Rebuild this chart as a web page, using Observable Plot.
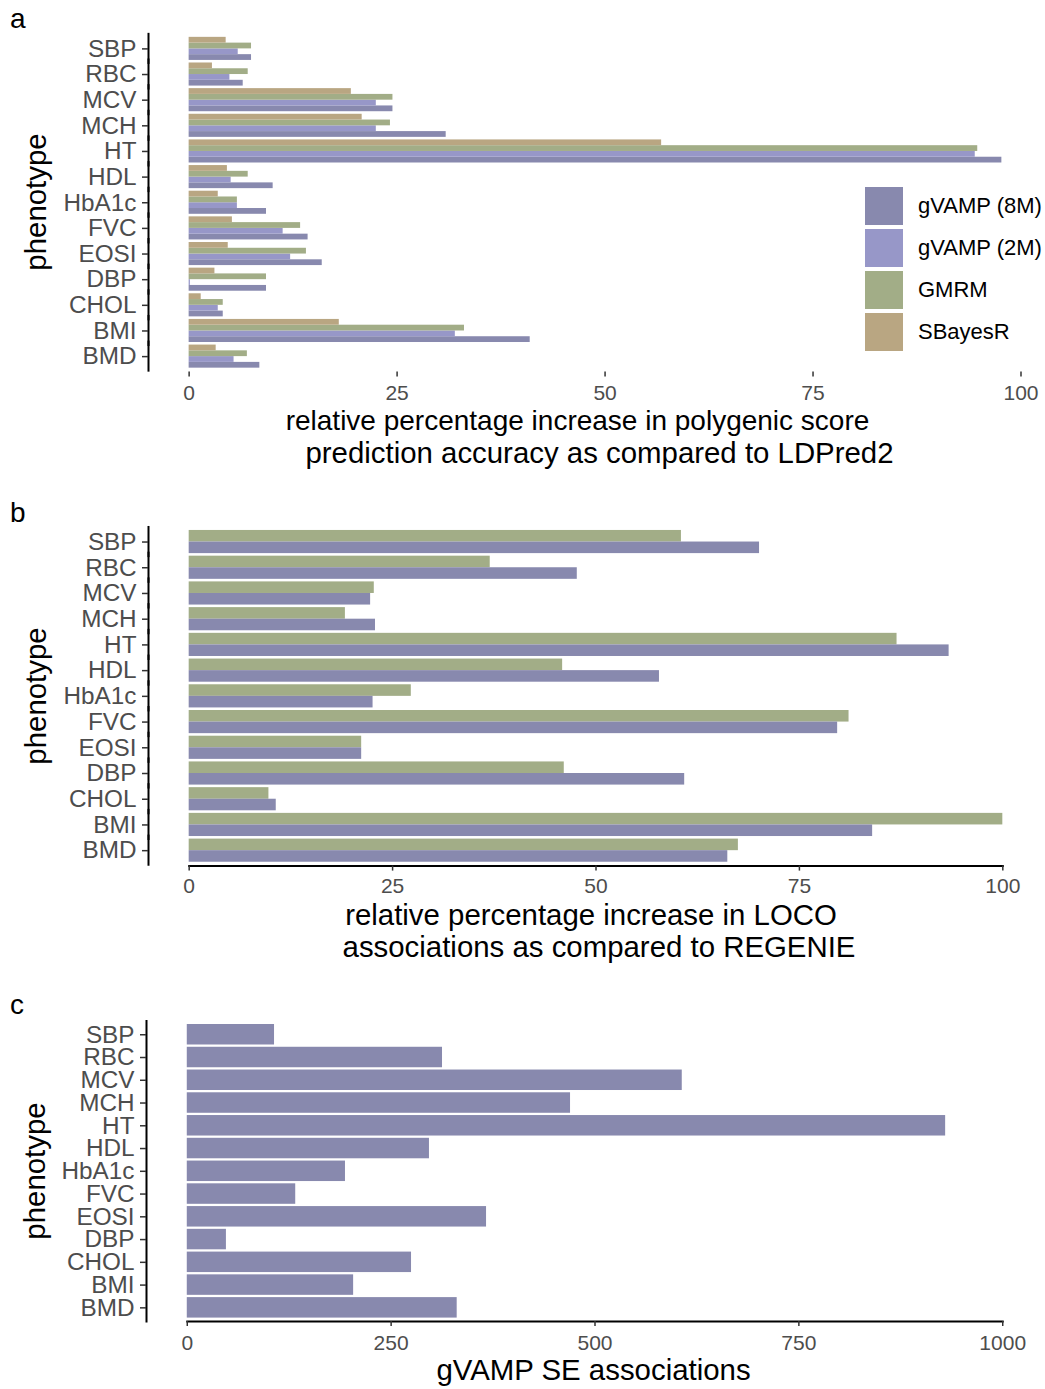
<!DOCTYPE html>
<html>
<head>
<meta charset="utf-8">
<script src="https://cdn.jsdelivr.net/npm/d3@7"></script>
<script src="https://cdn.jsdelivr.net/npm/@observablehq/plot@0.6"></script>
<style>
  body { margin: 0; background: #fff; }
  #root { position: relative; width: 1045px; height: 1389px; font-family: "Liberation Sans", Arial, Helvetica, sans-serif; overflow: hidden; }
  .panel { position: absolute; left: 0; width: 1045px; }
  .lbl { position: absolute; white-space: pre; line-height: 1em; color: #000; }
  .lg-swatches { font-family: "Liberation Sans", Arial, Helvetica, sans-serif !important; font-size: 22px !important; color: #000; margin: 0 !important; min-height: 0 !important; }
  .lg-swatch { padding-bottom: 4px !important; }
  .lg-swatch svg { margin-right: 15px !important; }
</style>
</head>
<body>
<div id="root"></div>
<script>
const FONT = '"Liberation Sans", Arial, Helvetica, sans-serif';

// ---------- data ----------
const phenotypes = ["SBP", "RBC", "MCV", "MCH", "HT", "HDL", "HbA1c", "FVC", "EOSI", "DBP", "CHOL", "BMI", "BMD"];

// panel a: relative % increase in PGS prediction accuracy vs LDPred2
const methodsA = ["gVAMP (8M)", "gVAMP (2M)", "GMRM", "SBayesR"];
const colorsA = ["#8889ae", "#9797c8", "#a2ad87", "#b9a682"];
const pgsGvamp8M = [7.5, 6.5, 24.5, 30.9, 97.7, 10.1, 9.3, 14.3, 16.0, 9.3, 4.1, 41.0, 8.5];
const pgsGvamp2M = [5.9, 4.9, 22.5, 22.5, 94.5, 5.05, 5.8, 11.3, 12.2, 0.15, 3.5, 32.0, 5.4];
const pgsGMRM    = [7.5, 7.1, 24.5, 24.2, 94.8, 7.1, 5.8, 13.4, 14.1, 9.3, 4.1, 33.1, 7.0];
const pgsSBayesR = [4.45, 2.8, 19.5, 20.8, 56.8, 4.6, 3.5, 5.2, 4.7, 3.1, 1.45, 18.05, 3.25];
const ticksA = [0, 25, 50, 75, 100];

// panel b: relative % increase in LOCO associations vs REGENIE
const methodsB = ["GMRM", "gVAMP (8M)"];
const colorsB = ["#a2ad87", "#8889ae"];
const locoGMRM    = [60.5, 37.0, 22.75, 19.2, 87.0, 45.9, 27.3, 81.1, 21.2, 46.1, 9.8, 100.0, 67.5];
const locoGvamp8M = [70.1, 47.7, 22.3, 22.9, 93.4, 57.8, 22.6, 79.7, 21.2, 60.9, 10.7, 84.0, 66.2];
const ticksB = [0, 25, 50, 75, 100];

// panel c: gVAMP SE associations
const seAssoc = [107, 313, 607, 470, 930, 297, 194, 133, 367, 48, 275, 204, 331];
const seColor = "#8889ae";
const ticksC = [0, 250, 500, 750, 1000];

// ---------- tables ----------
const seriesA = {"gVAMP (8M)": pgsGvamp8M, "gVAMP (2M)": pgsGvamp2M, "GMRM": pgsGMRM, "SBayesR": pgsSBayesR};
const tidyA = phenotypes.flatMap((p, i) => methodsA.map(m => ({phenotype: p, method: m, value: seriesA[m][i]})));
const seriesB = {"GMRM": locoGMRM, "gVAMP (8M)": locoGvamp8M};
const tidyB = phenotypes.flatMap((p, i) => methodsB.map(m => ({phenotype: p, method: m, value: seriesB[m][i]})));
const tidyC = phenotypes.map((p, i) => ({phenotype: p, value: seAssoc[i]}));

const root = document.getElementById("root");
function panel(top, height) {
  const d = document.createElement("div");
  d.className = "panel";
  d.style.top = top + "px";
  d.style.height = height + "px";
  root.appendChild(d);
  return d;
}
function label(parent, text, x, baseline, fs, anchor = "middle", rotate = false) {
  const d = document.createElement("div");
  d.className = "lbl";
  d.textContent = text;
  d.style.fontSize = fs + "px";
  if (!rotate) {
    d.style.top = (baseline - 0.8465 * fs) + "px";
    d.style.left = x + "px";
    if (anchor === "middle") d.style.transform = "translateX(-50%)";
  } else {
    const cx = baseline - 0.3465 * fs;
    d.style.left = cx + "px";
    d.style.top = x + "px";
    d.style.transform = "translate(-50%, -50%) rotate(-90deg)";
  }
  parent.appendChild(d);
  return d;
}

const axisStyle = {stroke: "#333", fill: "#4d4d4d", strokeWidth: 1.5};
const TITLE = 29.4;

// ---------- panel a ----------
const xA = [-4.885, 102.585];
const pA = panel(0, 494);
pA.appendChild(Plot.plot({
  width: 1045, height: 494,
  marginTop: 33, marginBottom: 122.5, marginLeft: 148, marginRight: 3,
  style: {fontFamily: FONT, background: "transparent", overflow: "visible"},
  x: {domain: xA},
  y: {domain: [...methodsA].reverse(), padding: 0, round: false, axis: null},
  fy: {domain: phenotypes, paddingInner: 0.1, paddingOuter: 0.15, round: false},
  color: {domain: methodsA, range: colorsA},
  marks: [
    Plot.barX(tidyA, {x: "value", y: "method", fy: "phenotype", fill: "method"}),
    Plot.ruleX([xA[0]], {stroke: "#000", strokeWidth: 2, insetTop: -4, insetBottom: -4}),
    Plot.axisFy({anchor: "left", label: null, tickSize: 6, tickPadding: 6, fontSize: 24.3, ...axisStyle}),
    Plot.axisX({ticks: ticksA, label: null, tickSize: 5, tickPadding: 8, dy: 3.85, fontSize: 21, ...axisStyle})
  ]
}));
const legA = Plot.legend({color: {domain: methodsA, range: colorsA}, swatchSize: 38, columns: 1, className: "lg"});
legA.style.position = "absolute";
legA.style.left = "865px";
legA.style.top = "187px";
pA.appendChild(legA);
label(pA, "a", 10, 29, 28, "start");
label(pA, "relative percentage increase in polygenic score", 577.5, 431, 28);
label(pA, "prediction accuracy as compared to LDPred2", 599.5, 463, TITLE);
label(pA, "phenotype", 202, 46, TITLE, "middle", true);

// ---------- panel b ----------
const xB = [-5, 105];
const pB = panel(494, 494);
pB.appendChild(Plot.plot({
  width: 1045, height: 494,
  marginTop: 32.1, marginBottom: 122.4, marginLeft: 148, marginRight: 2,
  style: {fontFamily: FONT, background: "transparent", overflow: "visible"},
  x: {domain: xB},
  y: {domain: methodsB, padding: 0, round: false, axis: null},
  fy: {domain: phenotypes, paddingInner: 0.1, paddingOuter: 0.15, round: false},
  color: {domain: methodsB, range: colorsB},
  marks: [
    Plot.barX(tidyB, {x: "value", y: "method", fy: "phenotype", fill: "method"}),
    Plot.ruleX([xB[0]], {stroke: "#000", strokeWidth: 2, insetTop: -4, insetBottom: -4}),
    Plot.frame({anchor: "bottom", facetAnchor: "bottom", stroke: "#000", strokeWidth: 2, insetLeft: 40.7, insetRight: 40.7, insetBottom: -3.85}),
    Plot.axisFy({anchor: "left", label: null, tickSize: 6, tickPadding: 6, fontSize: 24.3, ...axisStyle}),
    Plot.axisX({ticks: ticksB, label: null, tickSize: 5, tickPadding: 7, dy: 3.85, fontSize: 21, ...axisStyle})
  ]
}));
label(pB, "b", 10, 29, 28, "start");
label(pB, "relative percentage increase in LOCO", 591, 431, TITLE);
label(pB, "associations as compared to REGENIE", 599, 463, TITLE);
label(pB, "phenotype", 202, 46, TITLE, "middle", true);

// ---------- panel c ----------
const xC = [-50, 1050];
const pC = panel(988, 401);
pC.appendChild(Plot.plot({
  width: 1045, height: 401,
  marginTop: 32.6, marginBottom: 68, marginLeft: 146, marginRight: 2,
  style: {fontFamily: FONT, background: "transparent", overflow: "visible"},
  x: {domain: xC},
  y: {domain: phenotypes, paddingInner: 0.1, paddingOuter: 0.15, round: false},
  marks: [
    Plot.barX(tidyC, {x: "value", y: "phenotype", fill: seColor}),
    Plot.frame({anchor: "left", stroke: "#000", strokeWidth: 2}),
    Plot.frame({anchor: "bottom", stroke: "#000", strokeWidth: 2, insetLeft: 40.77, insetRight: 40.77}),
    Plot.axisY({anchor: "left", label: null, tickSize: 6, tickPadding: 6, fontSize: 24.3, ...axisStyle}),
    Plot.axisX({ticks: ticksC, tickFormat: d3.format("d"), label: null, tickSize: 5, tickPadding: 8.5, fontSize: 21, ...axisStyle})
  ]
}));
label(pC, "c", 10, 27, 28, "start");
label(pC, "gVAMP SE associations", 593.5, 392, TITLE);
label(pC, "phenotype", 183, 45, TITLE, "middle", true);
</script>
</body>
</html>
